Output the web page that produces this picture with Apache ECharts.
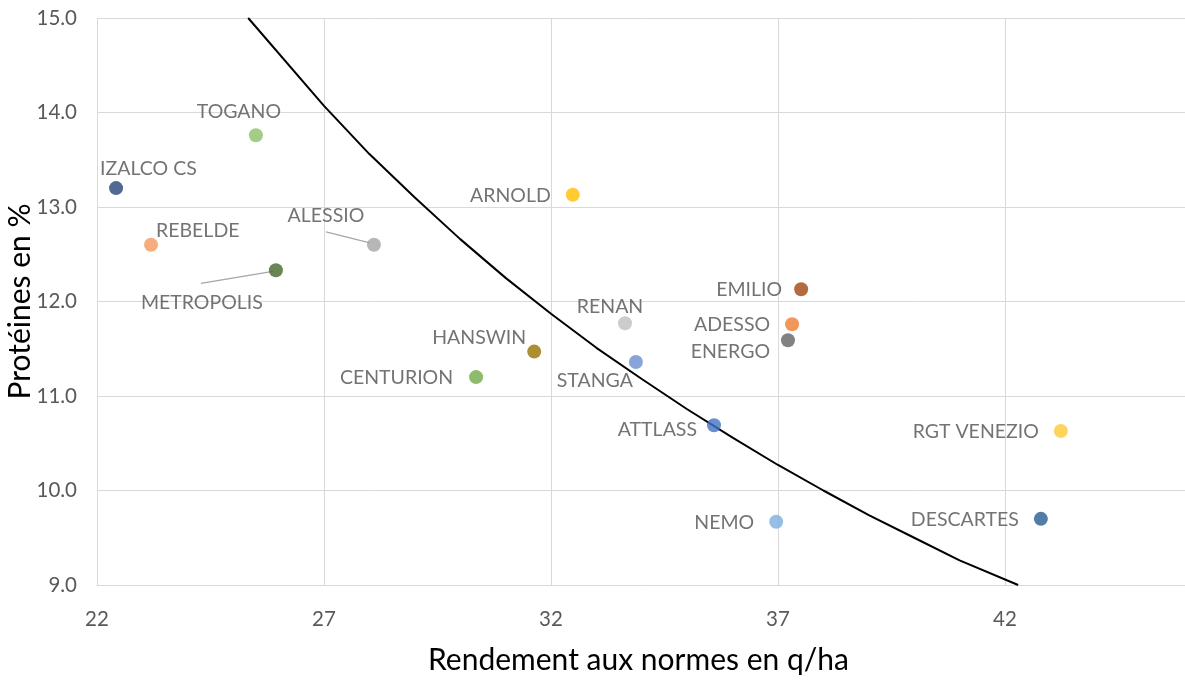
<!DOCTYPE html>
<html>
<head>
<meta charset="utf-8">
<script src="https://cdn.jsdelivr.net/npm/echarts@6/dist/echarts.min.js"></script>
<style>
  html, body { margin: 0; padding: 0; background: #fff; }
  #chart { width: 1185px; height: 681px; }
</style>
</head>
<body>
<div id="chart"></div>
<script>
// varieties: yield (q/ha) and protein (%)
var varieties = ['IZALCO CS', 'TOGANO', 'REBELDE', 'METROPOLIS', 'ALESSIO', 'ARNOLD',
  'HANSWIN', 'CENTURION', 'RENAN', 'STANGA', 'ATTLASS', 'EMILIO', 'ADESSO',
  'ENERGO', 'NEMO', 'RGT VENEZIO', 'DESCARTES'];
var yields = [22.42, 25.50, 23.19, 25.94, 28.10, 32.48, 31.63, 30.35, 33.63, 33.87,
  35.59, 37.51, 37.31, 37.22, 36.96, 43.23, 42.79];
var proteins = [13.20, 13.76, 12.60, 12.33, 12.60, 13.13, 11.47, 11.20, 11.77, 11.36,
  10.69, 12.13, 11.76, 11.59, 9.67, 10.63, 9.70];

// reference curve
var curveX = [25.33, 27, 28, 29, 30, 31, 32, 33, 34, 35, 36, 37, 38, 39, 40, 41, 42.29];
var curveY = [15.0, 14.07, 13.56, 13.1, 12.66, 12.25, 11.87, 11.51, 11.18, 10.86,
  10.56, 10.27, 10.0, 9.74, 9.5, 9.26, 9.0];

var yTicks = [9, 10, 11, 12, 13, 14, 15];

// styles
var colors = ['#264478', '#8cc168', '#f4995c', '#43682b', '#a5a5a5', '#ffc000',
  '#997300', '#70ad47', '#bfbfbf', '#698ed0', '#4472c4', '#9e480e', '#ed7d31',
  '#636363', '#7cafdd', '#ffc933', '#255e91'];
// [align, dx, dy] relative to the point centre
var labelPlace = [
  ['left', -16, -19], ['center', -17, -23], ['left', 5, -14], ['center', -74, 32],
  ['center', -48, -29], ['right', -22, 1], ['right', -8, -14], ['right', -23, 1],
  ['center', -15, -17], ['right', -3, 19], ['right', -17, 4], ['right', -19, 1],
  ['right', -22, 1], ['right', -18, 11], ['right', -22, 1], ['right', -22, 1],
  ['right', -22, 1]
];
// leader lines: variety -> [x0, y0, x1, y1] pixel offsets from the point centre
var leaders = {
  'METROPOLIS': [-75, 13, -3, 1],
  'ALESSIO': [-48, -13, -4, -2]
};

var fontName = 'Lato';
var labelColor = '#505050';

function buildPoints() {
  var data = [];
  for (var i = 0; i < varieties.length; ++i) {
    var p = labelPlace[i];
    data.push({
      name: varieties[i],
      value: [yields[i], proteins[i]],
      itemStyle: { color: colors[i] },
      label: { align: p[0], offset: [p[1], p[2]] }
    });
  }
  return data;
}

function buildLeaderData() {
  var data = [];
  for (var i = 0; i < varieties.length; ++i) {
    if (leaders[varieties[i]]) {
      data.push({ name: varieties[i], value: [yields[i], proteins[i]] });
    }
  }
  return data;
}

function buildCurve() {
  var data = [];
  for (var i = 0; i < curveX.length; ++i) {
    data.push([curveX[i], curveY[i]]);
  }
  return data;
}

var leaderData = buildLeaderData();

var chart = echarts.init(document.getElementById('chart'));
chart.setOption({
  animation: false,
  backgroundColor: '#fff',
  textStyle: { fontFamily: fontName },
  // the plot runs on past the right edge (up to 47), as in the picture
  grid: { left: 97, top: 18, bottom: 96, right: -47, outerBoundsMode: 'none', containLabel: false },
  xAxis: {
    type: 'value',
    min: 22,
    max: 47,
    interval: 5,
    name: 'Rendement aux normes en q/ha',
    nameLocation: 'middle',
    nameGap: 60,
    nameMoveOverlap: false,
    nameTextStyle: { color: '#000', fontSize: 30, fontFamily: fontName, padding: [0, 52, 0, 0] },
    axisLine: { show: true, lineStyle: { color: '#d9d9d9' } },
    axisTick: { show: false },
    axisLabel: { color: '#595959', fontSize: 20.5, margin: 24 },
    splitLine: { show: true, lineStyle: { color: '#d9d9d9' } }
  },
  yAxis: {
    type: 'value',
    min: yTicks[0],
    max: yTicks[yTicks.length - 1],
    interval: 1,
    name: 'Protéines en %',
    nameLocation: 'middle',
    nameGap: 62,
    nameMoveOverlap: false,
    nameTextStyle: { color: '#000', fontSize: 30, fontFamily: fontName },
    axisLine: { show: true, lineStyle: { color: '#d9d9d9' } },
    axisTick: { show: false },
    axisLabel: {
      color: '#595959', fontSize: 20.5, margin: 20,
      formatter: function(v) { return v.toFixed(1); }
    },
    splitLine: { show: true, lineStyle: { color: '#d9d9d9' } }
  },
  series: [{
    type: 'line',
    data: buildCurve(),
    showSymbol: false,
    symbol: 'none',
    smooth: false,
    lineStyle: { color: '#000', width: 2 },
    z: 2
  }, {
    type: 'custom',
    data: leaderData,
    z: 2,
    silent: true,
    renderItem: function(params, api) {
      var c = api.coord([api.value(0), api.value(1)]);
      var off = leaders[leaderData[params.dataIndex].name];
      return {
        type: 'line',
        shape: { x1: c[0] + off[0], y1: c[1] + off[1], x2: c[0] + off[2], y2: c[1] + off[3] },
        style: { stroke: '#a6a6a6', lineWidth: 1.2 }
      };
    }
  }, {
    type: 'scatter',
    data: buildPoints(),
    symbolSize: 14,
    z: 3,
    label: {
      show: true,
      position: 'inside',
      formatter: '{b}',
      color: labelColor,
      fontSize: 19.5,
      fontFamily: fontName,
      verticalAlign: 'middle',
      textBorderWidth: 0
    }
  }]
});
</script>
</body>
</html>
